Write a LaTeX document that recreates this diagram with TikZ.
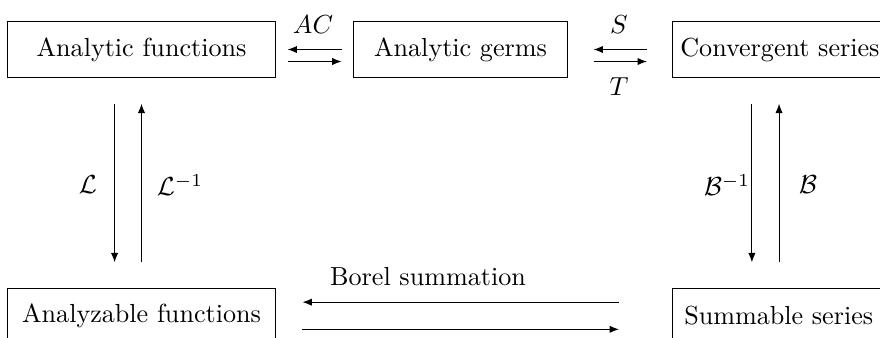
\documentclass[tikz,border=0pt]{standalone}
\usetikzlibrary{arrows.meta}
\begin{document}
\begin{tikzpicture}[x=0.383pt,y=-0.383pt,
  box/.style={draw,rectangle,minimum height=21.1pt,inner sep=0pt,line width=0.4pt},
  arr/.style={-{Latex[length=3.6pt,width=2.8pt]},line width=0.4pt},
  lbl/.style={inner sep=0pt}]
\useasboundingbox (0,0) rectangle (880,337);
\clip (0,0) rectangle (880,337);
\node[box,minimum width=102.3pt] (af) at (141.5,49.5) {Analytic functions};
\node[box,minimum width=82.3pt] (ag) at (460.5,49.5) {Analytic germs};
\node[box,anchor=west,inner xsep=3pt] (cs) at (672,49.5) {Convergent series};
\node[box,minimum width=102.3pt] (az) at (141.5,316) {Analyzable functions};
\node[box,anchor=west,inner xsep=4.5pt] (ss) at (672,316) {Summable series};
% top horizontal pairs
\draw[arr] ([xshift=-4.2pt]ag.west) -- ([xshift=4.6pt]af.east);
\draw[arr] ([yshift=-4.6pt,xshift=4.6pt]af.east) -- ([yshift=-4.6pt,xshift=-4.2pt]ag.west);
\draw[arr] ([xshift=-9.6pt]cs.west) -- ([xshift=9.6pt]ag.east);
\draw[arr] ([yshift=-4.6pt,xshift=9.6pt]ag.east) -- ([yshift=-4.6pt,xshift=-9.6pt]cs.west);
\node[lbl] (lac) at (313,25) {$AC$};
\node[lbl] (ls) at (619,25) {$S$};
\node[lbl] (lt) at (619,87) {$T$};
% left verticals
\draw[arr] ([xshift=-10.3pt,yshift=-10pt]af.south) -- ([xshift=-10.3pt,yshift=9.8pt]az.north);
\draw[arr] ([yshift=9.8pt]az.north) -- ([yshift=-10pt]af.south);
\node[lbl] (ll) at (88,185) {$\mathcal{L}$};
\node[lbl] (lli) at (180,185) {$\mathcal{L}^{-1}$};
% right verticals
\draw[arr] ([xshift=30.6pt,yshift=-10pt]cs.south west) -- ([xshift=30.6pt,yshift=9.8pt]ss.north west);
\draw[arr] ([xshift=41pt,yshift=9.8pt]ss.north west) -- ([xshift=41pt,yshift=-10pt]cs.south west);
\node[lbl] (lbi) at (727,185) {$\mathcal{B}^{-1}$};
\node[lbl] (lb) at (808,185) {$\mathcal{B}$};
% bottom pair
\draw[arr] ([yshift=5.3pt,xshift=-20.3pt]ss.west) -- ([yshift=5.3pt,xshift=10.3pt]az.east);
\draw[arr] ([yshift=-5.1pt,xshift=10.3pt]az.east) -- ([yshift=-5.1pt,xshift=-20.3pt]ss.west);
\node[lbl] (lbs) at (428,277) {Borel summation};
\end{tikzpicture}
\end{document}
